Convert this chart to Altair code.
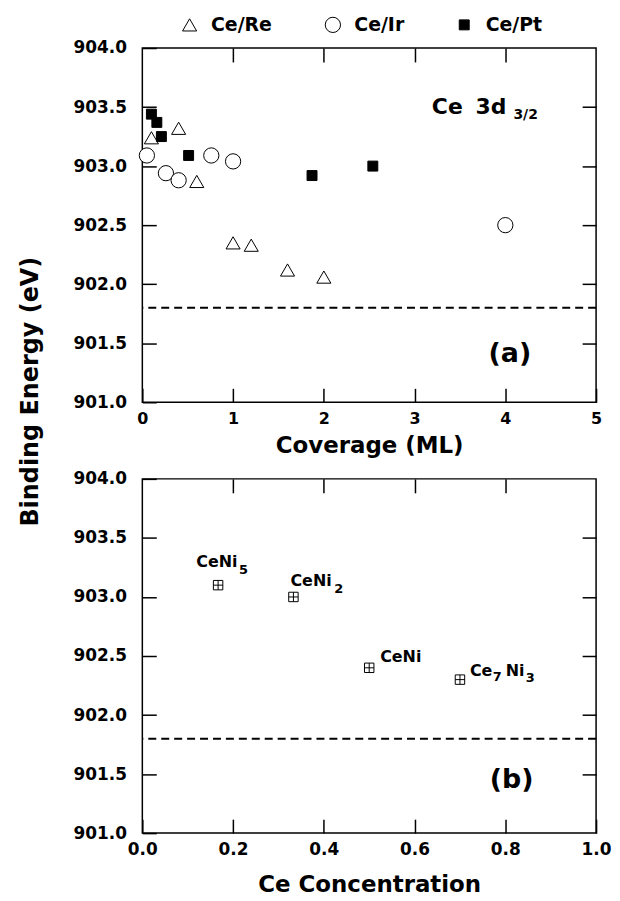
import altair as alt
import pandas as pd

FONT = "DejaVu Sans"

# ---------------- data: panel (a) ----------------
series_names = ["Ce/Re", "Ce/Ir", "Ce/Pt"]
re_cov = [0.10, 0.40, 0.60, 1.00, 1.20, 1.60, 2.00]
re_be = [903.24, 903.32, 902.87, 902.35, 902.33, 902.12, 902.06]
ir_cov = [0.05, 0.26, 0.40, 0.76, 1.00, 4.00]
ir_be = [903.09, 902.94, 902.88, 903.09, 903.04, 902.50]
pt_cov = [0.10, 0.16, 0.21, 0.51, 1.87, 2.54]
pt_be = [903.44, 903.37, 903.25, 903.09, 902.92, 903.00]
reference_be = [901.8]

# ---------------- data: panel (b) ----------------
compounds = ["CeNi5", "CeNi2", "CeNi", "Ce7Ni3"]
ce_conc = [0.167, 0.333, 0.50, 0.70]
ce_be = [903.10, 903.00, 902.40, 902.30]

# tick labels
y_ticks = [901.0, 901.5, 902.0, 902.5, 903.0, 903.5, 904.0]
xa_ticks = [0, 1, 2, 3, 4, 5]
xb_ticks = [0.0, 0.2, 0.4, 0.6, 0.8, 1.0]

df_a = pd.DataFrame({
    "coverage": re_cov + ir_cov + pt_cov,
    "be": re_be + ir_be + pt_be,
    "series": [series_names[0]] * len(re_cov) + [series_names[1]] * len(ir_cov) + [series_names[2]] * len(pt_cov),
})
df_b = pd.DataFrame({"conc": ce_conc, "be": ce_be, "name": compounds})
df_ref = pd.DataFrame({"be": reference_be})

Y_SCALE = alt.Scale(domain=[901, 904], nice=False, zero=False)
XA_SCALE = alt.Scale(domain=[0, 5], nice=False, zero=False)
XB_SCALE = alt.Scale(domain=[0, 1], nice=False, zero=False)

W, H = 456, 356
TICK = 14


def main_axis(orient, values, fmt, size, pad, title=None, tsize=23, tpad=8):
    kw = dict(orient=orient, values=values, format=fmt, domain=False, grid=False,
              tickSize=TICK, offset=-TICK, tickColor="black", tickWidth=1.5,
              labelFont=FONT, labelFontWeight="bold", labelFontSize=size,
              labelColor="black", labelPadding=pad, labelFlush=False, labelOverlap=False)
    if title is not None:
        kw.update(title=title, titleFont=FONT, titleFontWeight="bold", titleFontSize=tsize,
                  titleColor="black", titlePadding=tpad)
    else:
        kw.update(title=None)
    return alt.Axis(**kw)


def mirror_axis(orient, values):
    return alt.Axis(orient=orient, values=values, labels=False, domain=False, grid=False,
                    tickSize=TICK, offset=-TICK, tickColor="black", tickWidth=1.5, title=None)


def text_layer(x, y, txt, size, xscale, dx=0, dy=0, align="left"):
    d = pd.DataFrame({"x": [x], "y": [y], "t": [txt]})
    return alt.Chart(d).mark_text(font=FONT, fontWeight="bold", fontSize=size, align=align,
                                  baseline="alphabetic", dx=dx, dy=dy, color="black").encode(
        x=alt.X("x:Q", scale=xscale, axis=None),
        y=alt.Y("y:Q", scale=Y_SCALE, axis=None),
        text="t:N")


# ---------------- panel (a) ----------------
pts_a = alt.Chart(df_a).mark_point(filled=True, strokeWidth=1, opacity=1).encode(
    x=alt.X("coverage:Q", scale=XA_SCALE,
            axis=main_axis("bottom", xa_ticks, "d", 16, 8, "Coverage (ML)", 23, 8)),
    y=alt.Y("be:Q", scale=Y_SCALE, axis=main_axis("left", y_ticks, ".1f", 17, 16)),
    shape=alt.Shape("series:N", scale=alt.Scale(domain=series_names, range=["triangle-up", "circle", "square"]),
                    legend=alt.Legend(title=None)),
    fill=alt.Fill("series:N", scale=alt.Scale(domain=series_names, range=["white", "white", "black"]),
                  legend=alt.Legend(title=None)),
    stroke=alt.Stroke("series:N", scale=alt.Scale(domain=series_names, range=["black", "black", "black"]),
                      legend=alt.Legend(title=None)),
    size=alt.Size("series:N", scale=alt.Scale(type="ordinal", domain=series_names, range=[200, 235, 100]),
                  legend=alt.Legend(title=None)),
)
frame_a = alt.Chart(df_a).mark_point(opacity=0).encode(
    x=alt.X("coverage:Q", scale=XA_SCALE, axis=mirror_axis("top", [1, 2, 3, 4])),
    y=alt.Y("be:Q", scale=Y_SCALE, axis=mirror_axis("right", y_ticks[1:-1])),
)
rule_a = alt.Chart(df_ref).mark_rule(strokeDash=[8, 5], strokeWidth=2, color="black").encode(
    y=alt.Y("be:Q", scale=Y_SCALE, axis=None))

panel_a = alt.layer(
    rule_a, pts_a, frame_a,
    text_layer(3.19, 903.44, "Ce", 22, XA_SCALE),
    text_layer(3.19, 903.44, "3d", 22, XA_SCALE, dx=44),
    text_layer(3.19, 903.44, "3/2", 14, XA_SCALE, dx=82, dy=5),
    text_layer(4.05, 901.34, "(a)", 27, XA_SCALE, align="center"),
).resolve_axis(x="independent", y="independent").properties(width=W, height=H)

# ---------------- panel (b) ----------------
CROSS_BOX = "M-1,-1H1V1H-1Z M0,-1V1 M-1,0H1"
pts_b = alt.Chart(df_b).mark_point(shape=CROSS_BOX, size=90, stroke="black", strokeWidth=1,
                                   filled=False, opacity=1).encode(
    x=alt.X("conc:Q", scale=XB_SCALE,
            axis=main_axis("bottom", xb_ticks, ".1f", 17, 8, "Ce Concentration", 23, 17)),
    y=alt.Y("be:Q", scale=Y_SCALE, axis=main_axis("left", y_ticks, ".1f", 17, 16)),
)
frame_b = alt.Chart(df_b).mark_point(opacity=0).encode(
    x=alt.X("conc:Q", scale=XB_SCALE, axis=mirror_axis("top", xb_ticks[1:-1])),
    y=alt.Y("be:Q", scale=Y_SCALE, axis=mirror_axis("right", y_ticks[1:-1])),
)
rule_b = alt.Chart(df_ref).mark_rule(strokeDash=[8, 5], strokeWidth=2, color="black").encode(
    y=alt.Y("be:Q", scale=Y_SCALE, axis=None))

labels_b = [
    text_layer(ce_conc[0], ce_be[0], "CeNi", 16, XB_SCALE, dx=-22, dy=-18),
    text_layer(ce_conc[0], ce_be[0], "5", 13, XB_SCALE, dx=21, dy=-11),
    text_layer(ce_conc[1], ce_be[1], "CeNi", 16, XB_SCALE, dx=-3, dy=-11),
    text_layer(ce_conc[1], ce_be[1], "2", 13, XB_SCALE, dx=41, dy=-4),
    text_layer(ce_conc[2], ce_be[2], "CeNi", 16, XB_SCALE, dx=11, dy=-6),
    text_layer(ce_conc[3], ce_be[3], "Ce", 16, XB_SCALE, dx=10, dy=-4),
    text_layer(ce_conc[3], ce_be[3], "7", 13, XB_SCALE, dx=33, dy=1),
    text_layer(ce_conc[3], ce_be[3], "Ni", 16, XB_SCALE, dx=46, dy=-4),
    text_layer(ce_conc[3], ce_be[3], "3", 13, XB_SCALE, dx=66, dy=2),
]

panel_b = alt.layer(
    rule_b, pts_b, frame_b, *labels_b,
    text_layer(0.814, 901.38, "(b)", 27, XB_SCALE, align="center"),
).resolve_axis(x="independent", y="independent").properties(width=W, height=H)

chart = alt.vconcat(panel_a, panel_b, spacing=11).properties(
    title=alt.TitleParams("Binding Energy (eV)", orient="left", anchor="middle", font=FONT,
                          fontWeight="bold", fontSize=24, color="black", offset=29, dx=65),
    padding={"left": 11, "top": 5, "right": 0, "bottom": 0},
).configure_view(stroke="black", strokeWidth=1.5).configure_legend(
    orient="none", legendX=38, legendY=-33, direction="horizontal",
    labelFont=FONT, labelFontWeight="bold", labelFontSize=19, labelColor="black",
    symbolStrokeWidth=1, labelOffset=12, columnPadding=50, padding=0,
)

chart.save("out.html", embed_options={"renderer": "svg", "actions": False})
